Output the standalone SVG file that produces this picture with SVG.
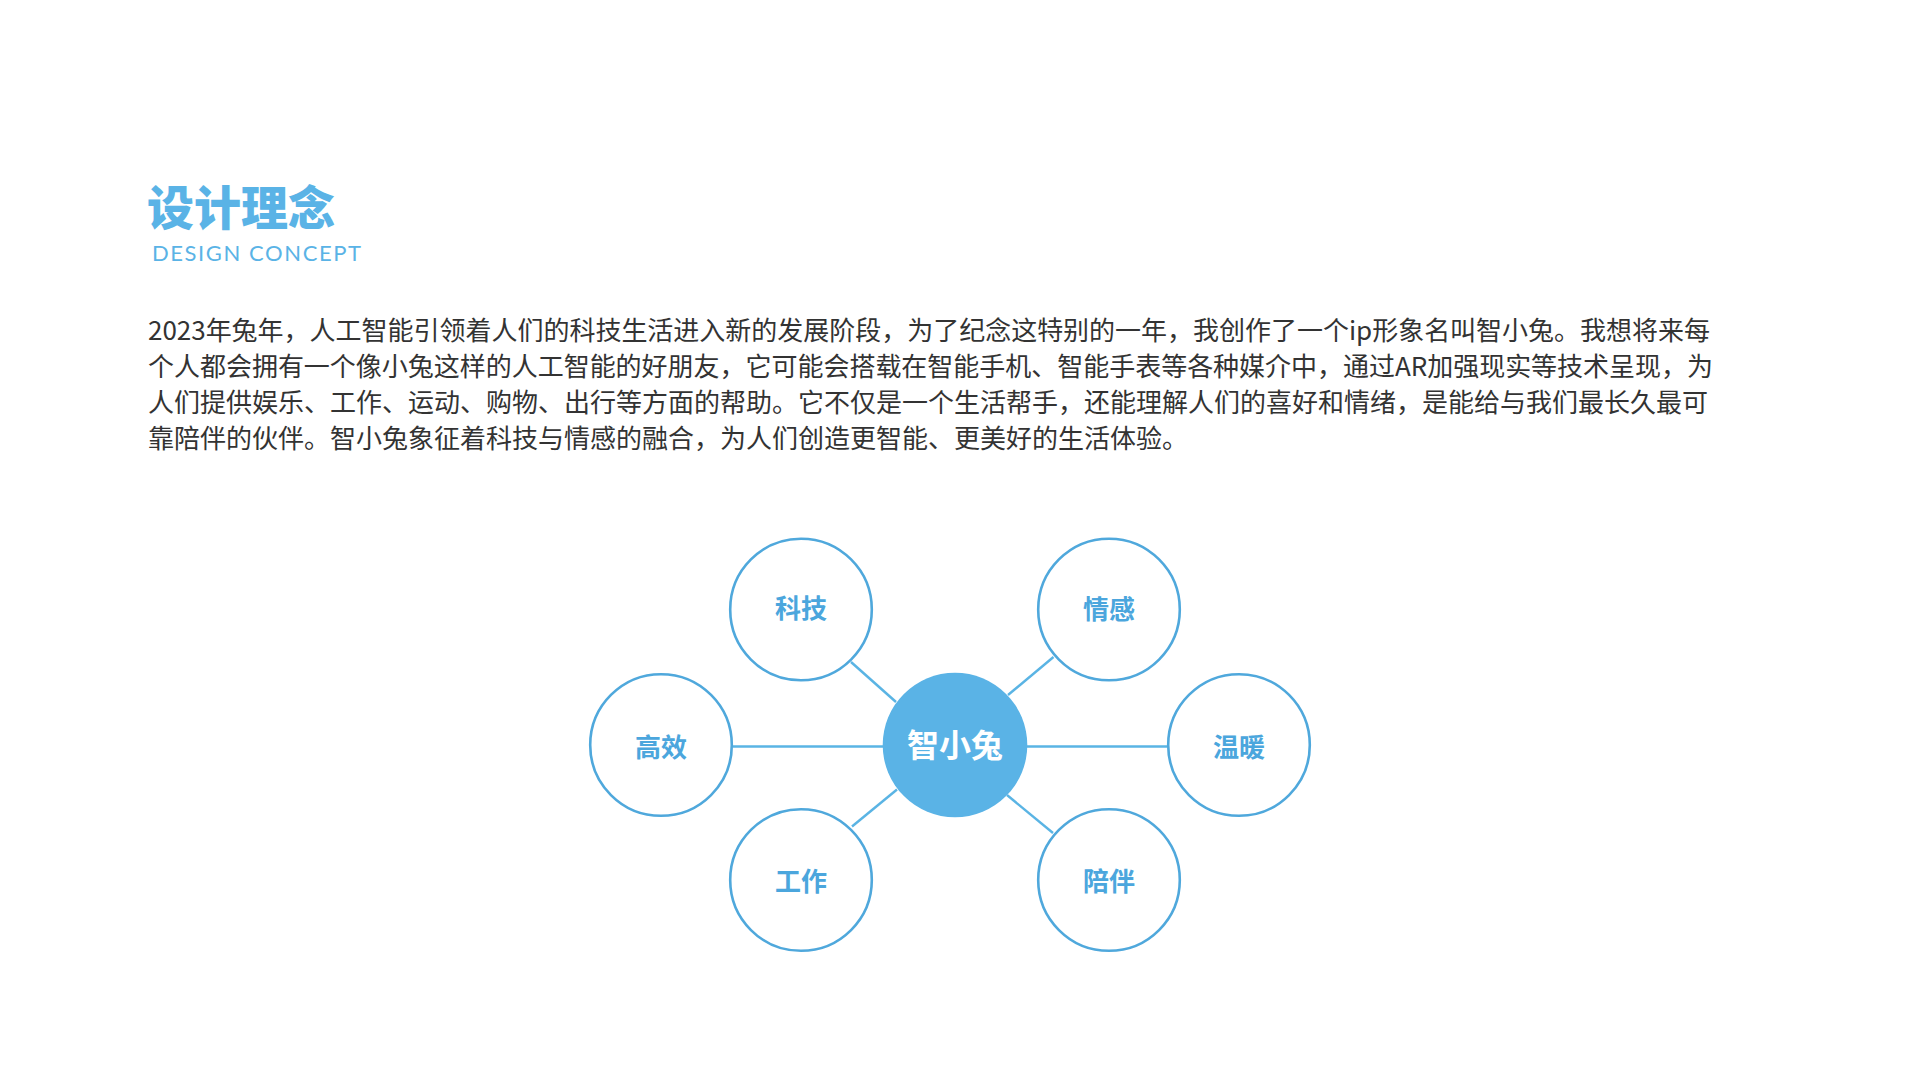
<svg xmlns="http://www.w3.org/2000/svg" width="1920" height="1092" viewBox="0 0 1920 1092">
  <style>
    .title { font-family: "Noto Sans CJK SC", "Noto Sans", sans-serif; font-weight: 900; font-size: 47px; fill: #5ab3e6; }
    .sub { font-family: "Lato", "Noto Sans", sans-serif; font-weight: 400; font-size: 22px; fill: #5ab3e6; }
    .para { font-family: "Noto Sans CJK SC", "Noto Sans", sans-serif; font-size: 26px; fill: #333333; }
    .ring { fill: #ffffff; stroke: #4fa8dc; stroke-width: 2.6; }
    .hub { fill: #5ab3e6; }
    .label { font-family: "Noto Sans CJK SC", "Noto Sans", sans-serif; font-weight: 700; font-size: 26px; fill: #4ba6dd; text-anchor: middle; }
    .hublabel { font-family: "Noto Sans CJK SC", "Noto Sans", sans-serif; font-weight: 700; font-size: 32px; fill: #ffffff; text-anchor: middle; }
    .link { stroke: #5ab4e4; stroke-width: 2.4; fill: none; }
  </style>
  <rect x="0" y="0" width="1920" height="1092" fill="#ffffff"/>

  <g id="header">
    <text class="title" x="147" y="225">设计理念</text>
    <text class="sub" x="152" y="260.5" textLength="209" lengthAdjust="spacing">DESIGN CONCEPT</text>
  </g>

  <g id="paragraph">
    <text class="para" x="148" y="339.5" textLength="1562" lengthAdjust="spacing">2023年兔年，人工智能引领着人们的科技生活进入新的发展阶段，为了纪念这特别的一年，我创作了一个ip形象名叫智小兔。我想将来每</text>
    <text class="para" x="148" y="375.5" textLength="1565" lengthAdjust="spacing">个人都会拥有一个像小兔这样的人工智能的好朋友，它可能会搭载在智能手机、智能手表等各种媒介中，通过AR加强现实等技术呈现，为</text>
    <text class="para" x="148" y="411.5" textLength="1560" lengthAdjust="spacing">人们提供娱乐、工作、运动、购物、出行等方面的帮助。它不仅是一个生活帮手，还能理解人们的喜好和情绪，是能给与我们最长久最可</text>
    <text class="para" x="148" y="447.5">靠陪伴的伙伴。智小兔象征着科技与情感的融合，为人们创造更智能、更美好的生活体验。</text>
  </g>

  <g id="connectors">
    <line class="link" x1="733" y1="746.5" x2="884" y2="746.5"/>
    <line class="link" x1="1026" y1="746.5" x2="1167" y2="746.5"/>
    <line class="link" x1="851" y1="662" x2="896" y2="702"/>
    <line class="link" x1="1008" y1="695" x2="1053.5" y2="657"/>
    <line class="link" x1="852" y1="826.5" x2="897" y2="789.5"/>
    <line class="link" x1="1007" y1="795" x2="1053" y2="833"/>
  </g>

  <g id="node-hub">
    <circle class="hub" cx="955" cy="745" r="72.3"/>
    <text class="hublabel" x="955" y="757">智小兔</text>
  </g>
  <g id="node-keji">
    <circle class="ring" cx="801" cy="609.5" r="70.8"/>
    <text class="label" x="801" y="618">科技</text>
  </g>
  <g id="node-qinggan">
    <circle class="ring" cx="1109" cy="609.5" r="70.8"/>
    <text class="label" x="1109" y="619">情感</text>
  </g>
  <g id="node-gaoxiao">
    <circle class="ring" cx="661" cy="745" r="70.8"/>
    <text class="label" x="661" y="757">高效</text>
  </g>
  <g id="node-wennuan">
    <circle class="ring" cx="1239" cy="745" r="70.8"/>
    <text class="label" x="1239" y="757">温暖</text>
  </g>
  <g id="node-gongzuo">
    <circle class="ring" cx="801" cy="880" r="70.8"/>
    <text class="label" x="801" y="891">工作</text>
  </g>
  <g id="node-peiban">
    <circle class="ring" cx="1109" cy="880" r="70.8"/>
    <text class="label" x="1109" y="891">陪伴</text>
  </g>
</svg>
